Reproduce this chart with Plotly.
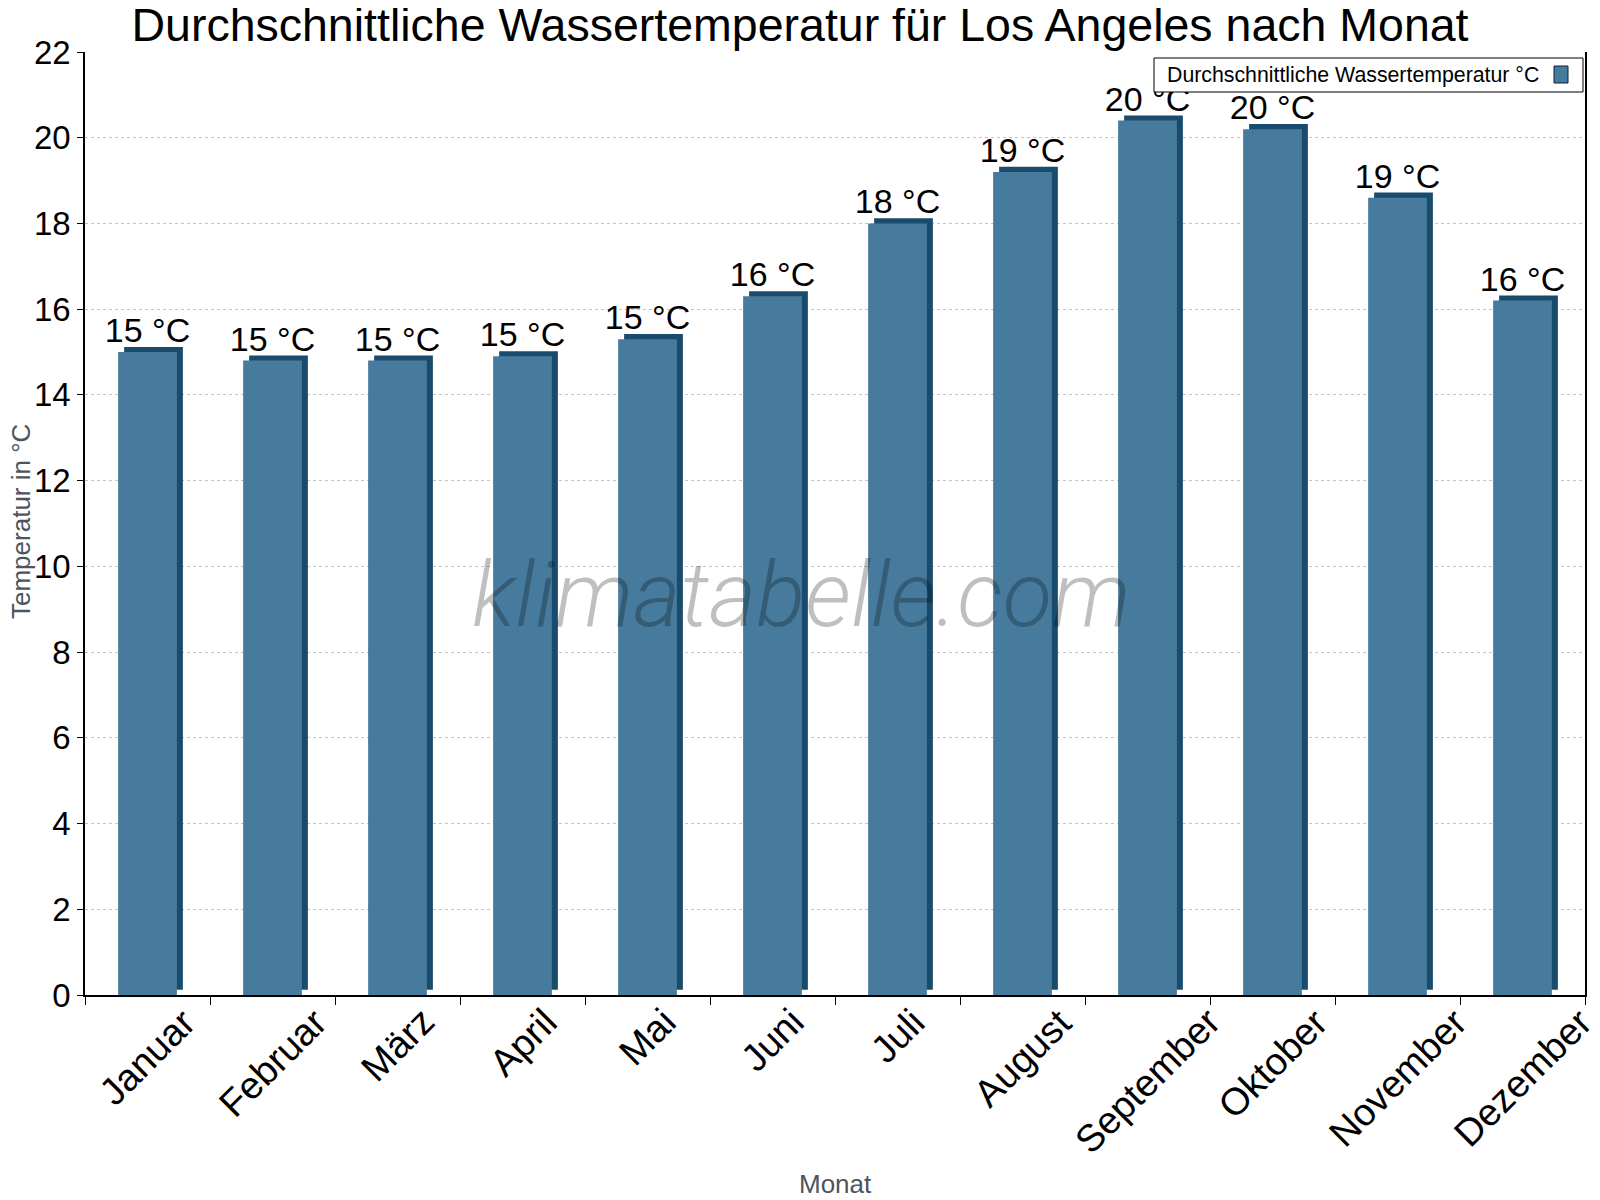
"""Durchschnittliche Wassertemperatur für Los Angeles nach Monat."""
import plotly.graph_objects as go

months = [
    "Januar", "Februar", "März", "April", "Mai", "Juni",
    "Juli", "August", "September", "Oktober", "November", "Dezember",
]
water_temp = [15.0, 14.8, 14.8, 14.9, 15.3, 16.3, 18.0, 19.2, 20.4, 20.2, 18.6, 16.2]
series_name = "Durchschnittliche Wassertemperatur °C"
y_ticks = list(range(0, 23, 2))

# the page body has an 8px margin, so the figure is made 8px smaller
PAGE = 8
WIDTH, HEIGHT = 1600 - PAGE, 1200 - PAGE
MARGIN = dict(l=77, r=15, t=44, b=205)
FRONT = "#467b9d"
SIDE = "#194b6d"
AXIS_TITLE = "#4d545c"
DEPTH_X = 0.048  # side face width, in category units
DEPTH_Y = 0.12  # top face height, in °C

PLOT_X0 = PAGE + MARGIN["l"]
PLOT_Y1 = PAGE + HEIGHT - MARGIN["b"]
PLOT_W = WIDTH - MARGIN["l"] - MARGIN["r"]
PLOT_H = HEIGHT - MARGIN["t"] - MARGIN["b"]


def px_x(x):
    """Window pixel x -> paper x."""
    return (x - PLOT_X0) / PLOT_W


def px_y(y):
    """Window pixel y -> paper y."""
    return (PLOT_Y1 - y) / PLOT_H


fig = go.Figure()
# dark bar behind, shifted right/up -> fake 3d side and top
fig.add_trace(
    go.Bar(
        x=months, y=water_temp, base=DEPTH_Y,
        width=0.47, offset=-0.235 + DEPTH_X,
        marker=dict(color=SIDE, line=dict(width=0)),
        showlegend=False, hoverinfo="skip",
    )
)
fig.add_trace(
    go.Bar(
        x=months, y=water_temp, name=series_name,
        width=0.47, offset=-0.235,
        marker=dict(color=FRONT, line=dict(width=0)),
        texttemplate="%{y:.0f} °C", textposition="outside",
        textfont=dict(size=34, color="black"),
        constraintext="none", cliponaxis=False,
        showlegend=False,
        hovertemplate="%{x}: %{y} °C<extra></extra>",
    )
)

fig.update_layout(
    width=WIDTH, height=HEIGHT,
    margin=MARGIN,
    barmode="overlay",
    plot_bgcolor="white", paper_bgcolor="white",
    font=dict(family="Liberation Sans, Arial, sans-serif", color="black"),
    title=dict(
        text="Durchschnittliche Wassertemperatur für Los Angeles nach Monat",
        font=dict(size=46.5, color="black"),
        x=(800 - PAGE) / WIDTH, xref="container", xanchor="center",
        y=0.9862, yref="container", yanchor="middle",
    ),
)
fig.update_xaxes(
    automargin=False,
    range=[-0.5, len(months) - 0.5],
    showline=True, linecolor="black", linewidth=1.5,
    ticks="outside", ticklen=8, tickcolor="black", tickson="boundaries",
    showticklabels=False,
    showgrid=False,
)
fig.update_yaxes(
    automargin=False,
    range=[0, 22], tickvals=y_ticks,
    showline=True, linecolor="black", linewidth=1.5, mirror=True,
    ticks="outside", ticklen=6, tickcolor="black",
    tickfont=dict(size=33),
    showgrid=True, gridcolor="#c4c4c4", gridwidth=1, griddash="dot",
    zeroline=False,
)

# month labels: rotated around their centre, hanging below each category
for month in months:
    fig.add_annotation(
        text=month, x=month, xref="x", y=px_y(998), yref="paper",
        xanchor="center", yanchor="top", textangle=-45,
        showarrow=False, font=dict(size=38, color="black"),
    )

# axis titles
fig.add_annotation(
    text="Monat", xref="paper", yref="paper",
    x=px_x(835), y=px_y(1184), xanchor="center", yanchor="middle",
    showarrow=False, font=dict(size=26, color=AXIS_TITLE),
)
fig.add_annotation(
    text="Temperatur in °C", xref="paper", yref="paper",
    x=px_x(21), y=px_y(522), xanchor="center", yanchor="middle",
    textangle=-90, showarrow=False, font=dict(size=26, color=AXIS_TITLE),
)

# legend drawn by hand: text first, swatch on the right
fig.add_shape(
    type="rect", xref="paper", yref="paper", layer="above",
    x0=px_x(1154), x1=px_x(1583), y0=px_y(92), y1=px_y(58),
    fillcolor="white", line=dict(color="black", width=1),
)
fig.add_shape(
    type="rect", xref="paper", yref="paper", layer="above",
    x0=px_x(1554), x1=px_x(1568), y0=px_y(83), y1=px_y(66),
    fillcolor=FRONT, line=dict(color="#0d2433", width=1),
)
fig.add_annotation(
    text=series_name, xref="paper", yref="paper",
    x=px_x(1165), y=px_y(75), xanchor="left", yanchor="middle",
    showarrow=False, font=dict(size=21.3, color="black"),
)

# watermark
fig.add_annotation(
    text="klimatabelle.com", xref="paper", yref="paper",
    x=px_x(801), y=px_y(595), xanchor="center", yanchor="middle",
    showarrow=False,
    font=dict(family="Roboto", size=91, color="rgba(0,0,0,0.25)",
              style="italic", weight=300),
)

fig.write_html("out.html")
